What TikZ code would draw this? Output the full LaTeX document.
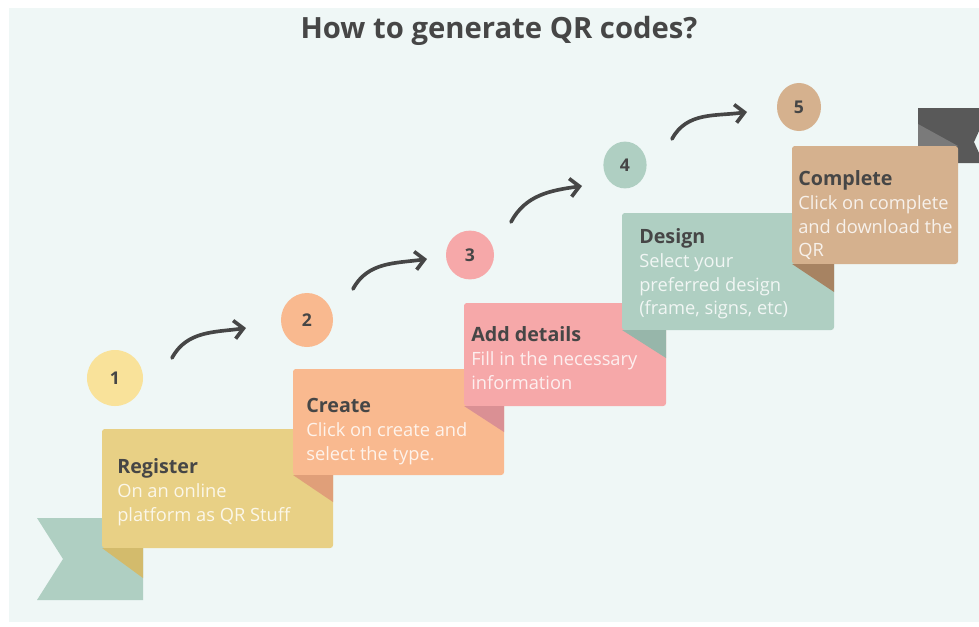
\documentclass[tikz,border=0pt]{standalone}
\usepackage{fontspec}
\setmainfont{Open Sans}
\usetikzlibrary{arrows.meta}
\usetikzlibrary{shapes.geometric}
\definecolor{panelc}{HTML}{EFF7F6}
\definecolor{inkc}{HTML}{464646}
\definecolor{registerc}{HTML}{E8D085}
\definecolor{registerfold}{HTML}{D3BB6C}
\definecolor{createc}{HTML}{F9B98F}
\definecolor{createfold}{HTML}{E09F79}
\definecolor{detailsc}{HTML}{F6A8A9}
\definecolor{detailsfold}{HTML}{DA9094}
\definecolor{designc}{HTML}{AFCFC2}
\definecolor{designfold}{HTML}{97B6AA}
\definecolor{completec}{HTML}{D5B18E}
\definecolor{completefold}{HTML}{A78362}
\definecolor{onec}{HTML}{F9E29A}
\colorlet{flagc}{designc}
\colorlet{darkflagc}{black!65}
\colorlet{darkflagfold}{black!52}

\begin{document}
\begin{tikzpicture}[x=0.025cm,y=-0.025cm,
  dot/.style={ellipse,inner sep=0pt,text=inkc,font=\fontsize{12.5}{12}\selectfont\bfseries},
  card/.style={anchor=north west,inner sep=0pt,align=left,font=\fontsize{13}{17}\selectfont},
  swoop/.style={-{Straight Barb[length=6.5pt,width=13pt]},line width=2.6pt,draw=inkc,line cap=round}]
\useasboundingbox (0,0) rectangle (979,626);
\fill[white] (0,0) rectangle (979,626);
\fill[panelc] (9,8) rectangle (979,622);

\node[text=inkc,font=\fontsize{20.8}{20}\selectfont\bfseries] (title) at (499,31) {How to generate QR codes?};

% flags behind the cards
\fill[flagc] (37,518) -- (143,518) -- (143,600) -- (37,600) -- (63,559) -- cycle;
\fill[darkflagc] (918,108) -- (979,108) -- (979,131) -- (974,142) -- (979,153) -- (979,163) -- (918,163) -- cycle;
\fill[darkflagfold] (918,124) -- (958,146) -- (918,146) -- cycle;

% cards, each with its fold
\fill[registerc, rounded corners=2pt] (102,429) rectangle (333,548);
\fill[registerfold] (102,548) -- (143,548) -- (143,578) -- cycle;
\fill[createc, rounded corners=2pt] (293,369) rectangle (504,475);
\fill[createfold] (293,475) -- (333,475) -- (333,502) -- cycle;
\fill[detailsc, rounded corners=2pt] (464,303) rectangle (666,406);
\fill[detailsfold] (464,406) -- (504,406) -- (504,432) -- cycle;
\fill[designc, rounded corners=2pt] (622,213) rectangle (834,330);
\fill[designfold] (622,330) -- (666,330) -- (666,358) -- cycle;
\fill[completec, rounded corners=2pt] (792,146) rectangle (958,264);
\fill[completefold] (792,264) -- (834,264) -- (834,292) -- cycle;

\node[card] (register) at (117,458) {{\fontsize{14}{17}\selectfont\bfseries\color{inkc}Register}\\
  \color{white!82!registerc}On an online\\ \color{white!82!registerc}platform as QR Stuff};
\node[card] (create) at (306,398) {{\fontsize{14}{17}\selectfont\bfseries\color{inkc}Create}\\
  \color{white!82!createc}Click on create and\\ \color{white!82!createc}select the type.};
\node[card] (details) at (471,326) {{\fontsize{14}{17}\selectfont\bfseries\color{inkc}Add details}\\
  \color{white!82!detailsc}Fill in the necessary\\ \color{white!82!detailsc}information};
\node[card] (design) at (639,228) {{\fontsize{14}{17}\selectfont\bfseries\color{inkc}Design}\\
  \color{white!82!designc}Select your\\ \color{white!82!designc}preferred design\\ \color{white!82!designc}(frame, signs, etc)};
\node[card] (complete) at (798,170) {{\fontsize{14}{17}\selectfont\bfseries\color{inkc}Complete}\\
  \color{white!82!completec}Click on complete\\ \color{white!82!completec}and download the\\ \color{white!82!completec}QR};

% numbered dots
\node[dot,fill=onec,minimum width=1.4cm,minimum height=1.4cm] (one) at (115,378) {1};
\node[dot,fill=createc,minimum width=1.3cm,minimum height=1.35cm] (two) at (307,320) {2};
\node[dot,fill=detailsc,minimum width=1.2cm,minimum height=1.22cm] (three) at (470,255) {3};
\node[dot,fill=designc,minimum width=1.08cm,minimum height=1.17cm] (four) at (625,165) {4};
\node[dot,fill=completec,minimum width=1.1cm,minimum height=1.2cm] (five) at (799,107) {5};

% swoops between the dots
\coordinate (s1) at (172,358); \coordinate (e1) at (246,328);
\coordinate (s2) at (353,289); \coordinate (e2) at (427,259);
\coordinate (s3) at (511,222); \coordinate (e3) at (582,186);
\coordinate (s4) at (672,139); \coordinate (e4) at (747,112);
\foreach \i in {1,2,3,4}
  \draw[swoop] (s\i) to[out=62,in=188] (e\i);
\end{tikzpicture}
\end{document}
